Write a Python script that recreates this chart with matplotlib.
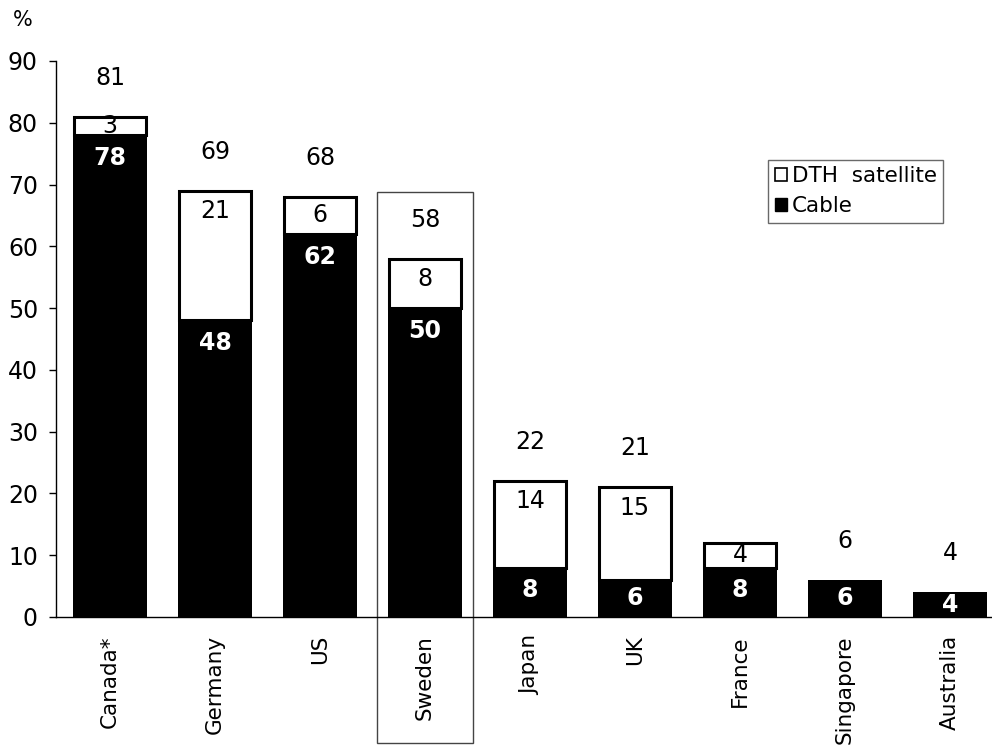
import matplotlib
matplotlib.use("Agg")
import matplotlib.pyplot as plt
from matplotlib.patches import Rectangle, Patch

plt.rcParams['font.family'] = ['DejaVu Sans']

countries = ["Canada*", "Germany", "US", "Sweden", "Japan", "UK", "France", "Singapore", "Australia"]
cable = [78, 48, 62, 50, 8, 6, 8, 6, 4]
satellite = [3, 21, 6, 8, 14, 15, 4, 0, 0]
totals = [81, 69, 68, 58, 22, 21, None, 6, 4]   # France total not shown in the original
yticks = [0, 10, 20, 30, 40, 50, 60, 70, 80, 90]
highlight = "Sweden"

fs = 17
fig = plt.figure(figsize=(9.92, 7.51), dpi=100)
ax = fig.add_axes([56/992, 1-617/751, 1-56/992, (617-61)/751])

x = list(range(len(countries)))
w = 0.70
ax.bar(x, cable, width=w, color='black', edgecolor='black', linewidth=0, zorder=2)
for xi, c, s in zip(x, cable, satellite):
    if s > 0:
        ax.bar(xi, s, bottom=c, width=w - 0.02, color='white', edgecolor='black',
               linewidth=2.2, zorder=3)

for xi, c, s, t in zip(x, cable, satellite, totals):
    yc = max(c - 3.7, c / 2)
    ax.text(xi, yc, str(c), ha='center', va='center', color='white',
            fontsize=fs, fontweight='bold', zorder=5)
    if s > 0:
        ys = max(c + s - 3.3, c + s / 2)
        ax.text(xi, ys, str(s), ha='center', va='center', color='black',
                fontsize=fs, zorder=5)
    if t is not None:
        ax.text(xi, t + 6.3, str(t), ha='center', va='center', color='black',
                fontsize=fs, zorder=5)

hi = countries.index(highlight)
rect = Rectangle((hi - 0.455, -20.4), 0.91, 68.8 + 20.4, fill=False,
                 edgecolor='#444444', linewidth=1.0, clip_on=False, zorder=1)
ax.add_patch(rect)

ax.set_xlim(-0.514, 8.4)
ax.set_ylim(0, 90)
ax.set_yticks(yticks)
ax.set_yticklabels([str(v) for v in yticks], fontsize=fs)
ax.set_xticks(x)
ax.set_xticklabels(countries, rotation=90, fontsize=15.5, va='top')
ax.tick_params(axis='x', length=0, pad=13)
ax.tick_params(axis='y', direction='out', length=5, width=1, pad=8)

for sp in ['top', 'right']:
    ax.spines[sp].set_visible(False)
ax.spines['left'].set_linewidth(1)
ax.spines['bottom'].set_linewidth(1)

handles = [Patch(facecolor='white', edgecolor='black', linewidth=1.2, label='DTH  satellite'),
           Patch(facecolor='black', edgecolor='black', label='Cable')]
leg = ax.legend(handles=handles, loc='upper left', bbox_to_anchor=(0.761, 0.822),
                borderaxespad=0, fontsize=15.5, frameon=True, fancybox=False,
                handlelength=0.55, handleheight=0.55, handletextpad=0.25,
                labelspacing=0.45, borderpad=0.3)
leg.get_frame().set_edgecolor('#444444')
leg.get_frame().set_linewidth(1.0)

fig.text(13/992, 1 - 20/751, '%', fontsize=fs - 2, ha='left', va='center')

fig.savefig('out.png', dpi=100)
